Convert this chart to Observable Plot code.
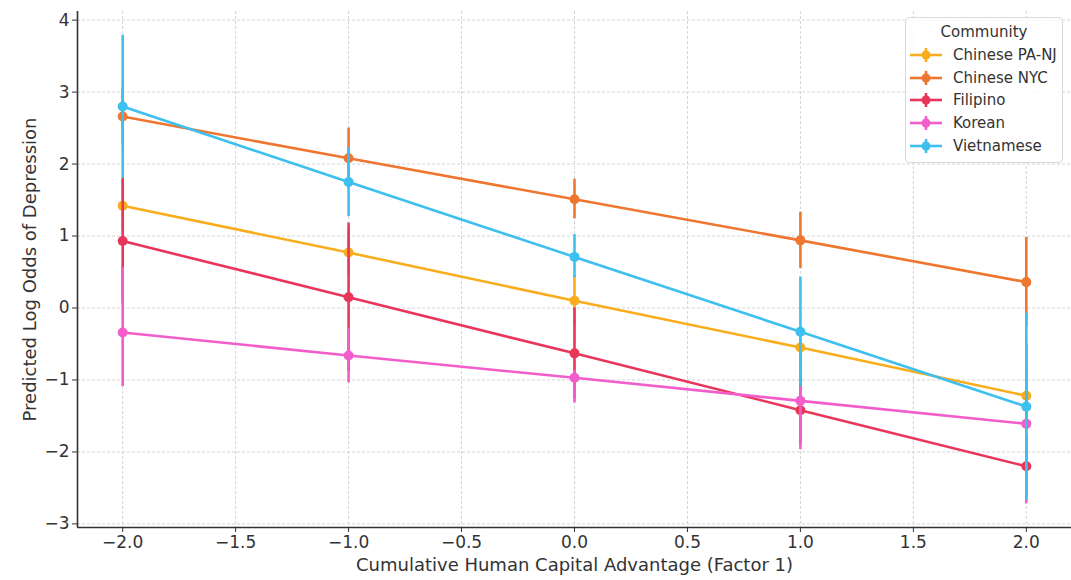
<!DOCTYPE html>
<html>
<head>
<meta charset="utf-8">
<script src="https://cdn.jsdelivr.net/npm/d3@7"></script>
<script src="https://cdn.jsdelivr.net/npm/@observablehq/plot@0.6"></script>
<style>
  html, body { margin: 0; padding: 0; background: #fff; }
  #wrap { position: relative; width: 1071px; height: 580px; font-family: "DejaVu Sans", sans-serif; }
  #legend {
    position: absolute; left: 905px; top: 17px; width: 158px; height: 146px;
    box-sizing: border-box; border: 1px solid #d9d9d9; border-radius: 4px;
    background: rgba(255,255,255,0.85); color: #333; font-size: 15px;
  }
  #legend .title { text-align: center; margin-top: 3px; height: 23px; line-height: 23px; }
  #legend .row { display: flex; align-items: center; height: 22.6px; white-space: nowrap; }
  #legend svg { margin-left: 4px; margin-right: 11px; flex: none; }
</style>
</head>
<body>
<div id="wrap"></div>
<script>
// Predicted log odds of depression by community, with confidence intervals
const xValues = [-2, -1, 0, 1, 2];
const communities = ["Chinese PA-NJ", "Chinese NYC", "Filipino", "Korean", "Vietnamese"];
const colors = ["#f9ad1c", "#ee7630", "#e8365b", "#f25dcb", "#3dbff0"];

const chinesePaNjMean = [1.42, 0.77, 0.10, -0.55, -1.22];
const chinesePaNjLow  = [1.07, 0.47, -0.25, -0.85, -1.57];
const chinesePaNjHigh = [1.77, 1.07, 0.45, -0.25, -0.87];

const chineseNycMean = [2.66, 2.08, 1.51, 0.94, 0.36];
const chineseNycLow  = [2.26, 1.66, 1.24, 0.55, -0.26];
const chineseNycHigh = [3.06, 2.50, 1.79, 1.33, 0.98];

const filipinoMean = [0.93, 0.15, -0.63, -1.42, -2.20];
const filipinoLow  = [0.06, -0.88, -1.26, -1.90, -2.60];
const filipinoHigh = [1.80, 1.18, 0.00, -0.94, -1.80];

const koreanMean = [-0.34, -0.66, -0.97, -1.29, -1.61];
const koreanLow  = [-1.09, -1.04, -1.32, -1.97, -2.72];
const koreanHigh = [0.56, -0.28, -0.87, -0.61, -0.50];

const vietnameseMean = [2.80, 1.75, 0.71, -0.33, -1.37];
const vietnameseLow  = [1.80, 1.27, 0.42, -1.09, -2.67];
const vietnameseHigh = [3.79, 2.23, 1.02, 0.43, -0.07];

const xTicks = [-2.0, -1.5, -1.0, -0.5, 0.0, 0.5, 1.0, 1.5, 2.0];
const yTicks = [-3, -2, -1, 0, 1, 2, 3, 4];
const xDomain = [-2.2, 2.2];
const yDomain = [-3.05, 4.12];

const seriesValues = [
  [chinesePaNjMean, chinesePaNjLow, chinesePaNjHigh],
  [chineseNycMean, chineseNycLow, chineseNycHigh],
  [filipinoMean, filipinoLow, filipinoHigh],
  [koreanMean, koreanLow, koreanHigh],
  [vietnameseMean, vietnameseLow, vietnameseHigh]
];

const rows = communities.map((name, i) => xValues.map((x, j) => ({
  community: name, x, y: seriesValues[i][0][j], lo: seriesValues[i][1][j], hi: seriesValues[i][2][j]
})));

const minus = s => s.replace("-", "\u2212");

// each community draws its error bars, line and points, in order
const seriesMarks = rows.flatMap((data, i) => [
  Plot.ruleX(data, {x: "x", y1: "lo", y2: "hi", stroke: colors[i], strokeWidth: 2.6}),
  Plot.line(data, {x: "x", y: "y", stroke: colors[i], strokeWidth: 2.6}),
  Plot.dot(data, {x: "x", y: "y", fill: colors[i], r: 5})
]);

const gridStyle = {stroke: "#d4d4d4", strokeOpacity: 1, strokeWidth: 1, strokeDasharray: "3,2"};

const chart = Plot.plot({
  width: 1071,
  height: 580,
  marginLeft: 77,
  marginRight: 0,
  marginTop: 11,
  marginBottom: 53,
  style: {fontFamily: "DejaVu Sans, sans-serif", fontSize: "17px", color: "#333", background: "#fff", overflow: "visible"},
  x: {domain: xDomain},
  y: {domain: yDomain},
  marks: [
    Plot.gridX(xTicks, gridStyle),
    Plot.gridY(yTicks, gridStyle),
    Plot.axisX(xTicks, {tickSize: 5, tickPadding: 3, tickFormat: d => minus(d.toFixed(1)), label: null, stroke: "#333", fill: "#333", fontSize: 17}),
    Plot.axisY(yTicks, {tickSize: 5, tickPadding: 3, tickFormat: d => minus(String(d)), label: null, stroke: "#333", fill: "#333", fontSize: 17}),
    ...seriesMarks,
    Plot.ruleX([xDomain[0]], {stroke: "#333", strokeWidth: 1.6}),
    Plot.ruleY([yDomain[0]], {stroke: "#333", strokeWidth: 1.6}),
    Plot.text(["Cumulative Human Capital Advantage (Factor 1)"], {frameAnchor: "bottom", dy: 38, lineAnchor: "middle", textAnchor: "middle", fontSize: 18, fill: "#333"}),
    Plot.text(["Predicted Log Odds of Depression"], {frameAnchor: "left", dx: -47, rotate: -90, lineAnchor: "middle", textAnchor: "middle", fontSize: 18, fill: "#333"})
  ]
});

const wrap = document.getElementById("wrap");
wrap.appendChild(chart);

// legend box inside the plot area
const legend = document.createElement("div");
legend.id = "legend";
const title = document.createElement("div");
title.className = "title";
title.textContent = "Community";
legend.appendChild(title);
communities.forEach((name, i) => {
  const row = document.createElement("div");
  row.className = "row";
  row.innerHTML = `<svg width="32" height="16"><line x1="0" x2="32" y1="8" y2="8" stroke="${colors[i]}" stroke-width="2.6"/><line x1="16" x2="16" y1="1" y2="15" stroke="${colors[i]}" stroke-width="2.6"/><circle cx="16" cy="8" r="4.5" fill="${colors[i]}"/></svg><span>${name}</span>`;
  legend.appendChild(row);
});
wrap.appendChild(legend);
</script>
</body>
</html>
